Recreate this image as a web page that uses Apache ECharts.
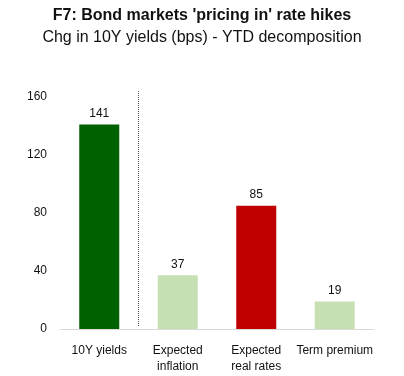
<!DOCTYPE html>
<html>
<head>
<meta charset="utf-8">
<script src="https://cdn.jsdelivr.net/npm/echarts@6/dist/echarts.min.js"></script>
<style>
  html, body { margin: 0; padding: 0; background: #fff; }
  #chart { width: 404px; height: 376px; }
</style>
</head>
<body>
<div id="chart"></div>
<script>
// data
const categories = ['10Y yields', 'Expected\ninflation', 'Expected\nreal rates', 'Term premium']
const values = [141, 37, 85, 19]
const barColors = ['#006100', '#c6e0b4', '#c00000', '#c6e0b4']
const yTicks = { min: 0, max: 160, interval: 40 }

const chart = echarts.init(document.getElementById('chart'))
const font = 'Liberation Sans, Arial, sans-serif'

chart.setOption({
  animation: false,
  title: {
    text: "F7: Bond markets 'pricing in' rate hikes",
    subtext: 'Chg in 10Y yields (bps) - YTD decomposition',
    left: 'center',
    top: 3,
    itemGap: 6,
    textStyle: { fontFamily: font, fontSize: 16, fontWeight: 'bold', color: '#111' },
    subtextStyle: { fontFamily: font, fontSize: 16, color: '#111' }
  },
  grid: { left: 60, right: 30, top: 97, bottom: 47 },
  xAxis: {
    type: 'category',
    data: categories,
    axisLine: { lineStyle: { color: '#d9d9d9', width: 1 } },
    axisTick: { show: false },
    axisLabel: { fontFamily: font, fontSize: 12, color: '#111', margin: 14, lineHeight: 16, interval: 0 }
  },
  yAxis: {
    type: 'value',
    min: yTicks.min,
    max: yTicks.max,
    interval: yTicks.interval,
    axisLine: { show: false },
    axisTick: { show: false },
    splitLine: { show: false },
    axisLabel: { fontFamily: font, fontSize: 12, color: '#111', margin: 13 }
  },
  series: [{
    type: 'bar',
    barWidth: 40,
    data: values.map((v, i) => ({ value: v, itemStyle: { color: barColors[i] } })),
    label: { show: true, position: 'top', fontFamily: font, fontSize: 12, color: '#111', distance: 5 }
  }]
})

// dotted divider between the first bar and the decomposition
const p0 = chart.convertToPixel({ gridIndex: 0 }, [0, yTicks.max])
const p1 = chart.convertToPixel({ gridIndex: 0 }, [1, yTicks.min])
const dx = (p0[0] + p1[0]) / 2
chart.setOption({
  graphic: [{
    type: 'line',
    shape: { x1: dx, y1: p0[1] - 6, x2: dx, y2: p1[1] - 3 },
    style: { stroke: '#555', lineWidth: 1, lineDash: [1, 1] },
    silent: true
  }]
})
</script>
</body>
</html>
